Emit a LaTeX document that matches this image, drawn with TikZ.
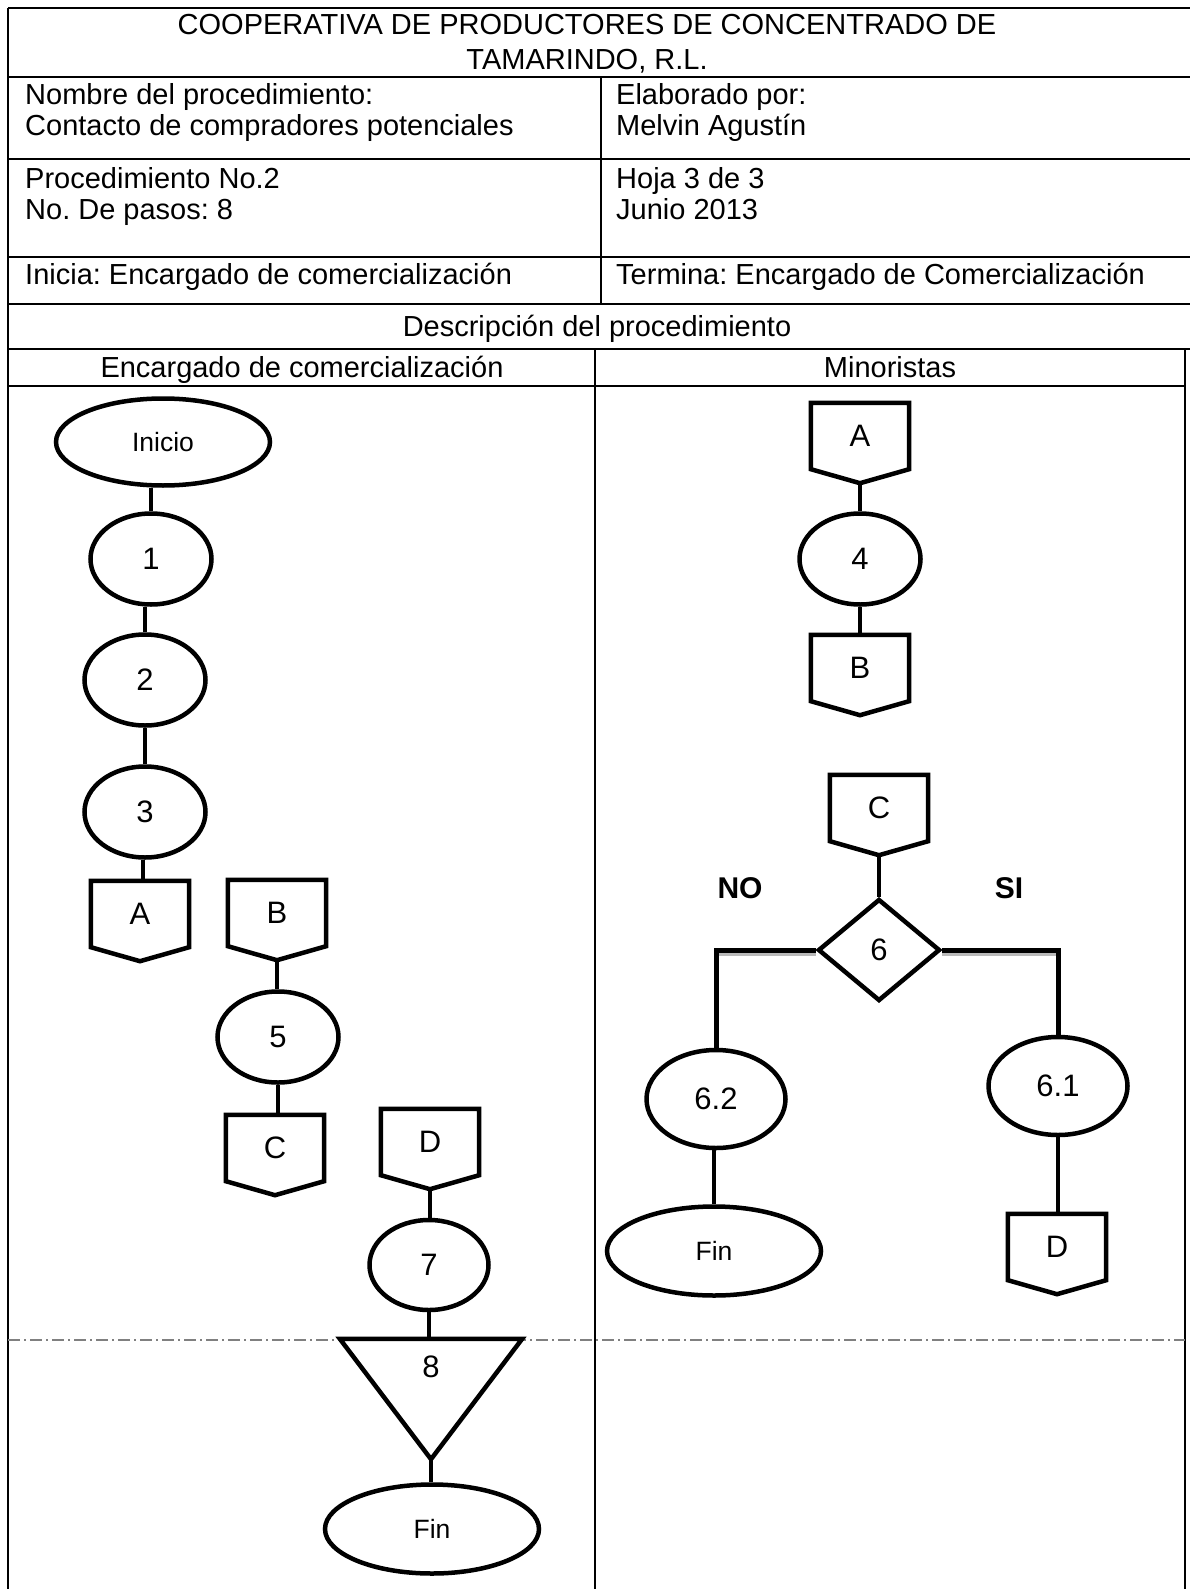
\documentclass[tikz,border=0pt]{standalone}
\usepackage{fontspec}
\setmainfont{Liberation Sans}
\usetikzlibrary{shapes.geometric,calc}
\frenchspacing
\newcommand\hdrfont{\fontsize{29}{34}\selectfont}
\newcommand\numfont{\fontsize{31}{37}\selectfont}
\newcommand\lblfont{\fontsize{26.5}{31}\selectfont}
\newcommand\letfont{\fontsize{31}{37}\selectfont}
\newcommand\ynfont{\fontsize{30}{36}\selectfont\bfseries}
\tikzset{
  tline/.style={line width=1.6pt},
  dashline/.style={line width=1.2pt, gray, dash pattern=on 12pt off 4pt on 2pt off 4pt},
  shp/.style={draw, line width=4.5pt},
  oval/.style={shp, ellipse, inner sep=0pt},
  numoval/.style={oval, minimum width=121pt, minimum height=91pt, font=\numfont},
  bigoval/.style={oval, minimum width=214pt, minimum height=87pt, font=\lblfont},
  midoval/.style={oval, minimum width=139pt, minimum height=98pt, font=\numfont},
  opcbox/.style={rectangle, inner sep=0pt, minimum width=98pt, minimum height=66pt, font=\letfont},
  conn/.style={line width=4pt},
  branch/.style={line width=5pt},
  shade/.style={line width=4pt, gray!55},
  htext/.style={font=\hdrfont, inner sep=0pt, anchor=base west},
  ctext/.style={font=\hdrfont, inner sep=0pt, anchor=base},
}
\newcommand\offpg[4]{%
  \node[opcbox] (#1) at (#2,#3+35) {#4};
  \coordinate (#1-tip) at ($(#1.south)+(0,14)$);
  \draw[line width=4.5pt] (#1.north west) -- (#1.north east) -- (#1.south east) -- (#1-tip) -- (#1.south west) -- cycle;
}
\begin{document}
\begin{tikzpicture}[x=1pt,y=-1pt]
\useasboundingbox (0,0) rectangle (1190,1589);
\fill[white] (0,0) rectangle (1190,1589);

% ---------- table ----------
\draw[tline] (8,8) -- (1190,8);
\foreach \yy in {77,159,257,304,349} { \draw[tline] (8,\yy) -- (1190,\yy); }
\draw[tline] (8,386) -- (1185,386);
\draw[tline] (8,8) -- (8,1589);
\draw[tline] (601,77) -- (601,304);
\draw[tline] (595,349) -- (595,1589);
\draw[tline] (1185,349) -- (1185,1589);
\draw[dashline] (8,1340) -- (1185,1340);

% ---------- header texts ----------
\node[ctext] (title1) at (587,35) {COOPERATIVA DE PRODUCTORES DE CONCENTRADO DE};
\node[ctext] (title2) at (587,70) {TAMARINDO, R.L.};
\node[htext] (nom1) at (25,105) {Nombre del procedimiento:};
\node[htext] (nom2) at (25,136) {Contacto de compradores potenciales};
\node[htext] (ela1) at (616,105) {Elaborado por:};
\node[htext] (ela2) at (616,136) {Melvin Agustín};
\node[htext] (pro1) at (25,189) {Procedimiento No.2};
\node[htext] (pro2) at (25,220) {No. De pasos: 8};
\node[htext] (hoj1) at (616,189) {Hoja 3 de 3};
\node[htext] (hoj2) at (616,220) {Junio 2013};
\node[htext] (ini1) at (25,284) {Inicia: Encargado de comercialización};
\node[htext] (ter1) at (616,284) {Termina: Encargado de Comercialización};
\node[ctext] (desc) at (597,336) {Descripción del procedimiento};
\node[ctext] (lane1) at (302,377) {Encargado de comercialización};
\node[ctext] (lane2) at (890,377) {Minoristas};

% ---------- left lane ----------
\node[bigoval] (ini) at (163,442) {Inicio};
\node[numoval] (n1) at (151,559) {1};
\node[numoval] (n2) at (145,680) {2};
\node[numoval] (n3) at (145,812) {3};
\offpg{A1}{140}{879}{A}
\offpg{B1}{277}{878}{B}
\node[numoval] (n5) at (278,1037) {5};
\offpg{C1}{275}{1113}{C}
\offpg{D1}{430}{1107}{D}
\node[numoval, minimum width=119pt, minimum height=90pt] (n7) at (429,1265) {7};
\node[rectangle, inner sep=0pt, minimum width=182pt, minimum height=120pt] (t8) at (431,1399) {};
\draw[line width=4.5pt] (t8.north west) -- (t8.north east) -- (t8.south) -- cycle;
\node[font=\numfont, inner sep=0pt] (t8lbl) at (431,1367) {8};
\node[bigoval, minimum height=89pt] (fin1) at (432,1529) {Fin};

\draw[conn] (n1.north) -- (n1.north |- ini.south);
\draw[conn] (n2.north) -- (n2.north |- n1.south);
\draw[conn] (n3.north) -- (n3.north |- n2.south);
\draw[conn] ([xshift=-2pt]n3.south) -- ([xshift=-2pt]n3.south |- A1.north);
\draw[conn] (B1-tip) -- (B1-tip |- n5.north);
\draw[conn] (n5.south) -- (n5.south |- C1.north);
\draw[conn] (D1-tip) -- (D1-tip |- n7.north);
\draw[conn] (n7.south) -- (n7.south |- t8.north);
\draw[conn] (t8.south) -- (t8.south |- fin1.north);

% ---------- right lane ----------
\offpg{A2}{860}{401}{A}
\node[numoval] (n4) at (860,559) {4};
\offpg{B2}{860}{633}{B}
\offpg{C2}{879}{773}{C}
\node[shp, diamond, inner sep=0pt, minimum width=122pt, minimum height=102pt, font=\numfont] (d6) at (879,950) {6};
\node[font=\ynfont, inner sep=0pt] (no) at (740,888) {NO};
\node[font=\ynfont, inner sep=0pt] (si) at (1009,888) {SI};
\node[midoval] (n62) at (716,1099) {6.2};
\node[midoval] (n61) at (1058,1086) {6.1};
\node[bigoval, minimum height=89pt] (fin2) at (714,1251) {Fin};
\offpg{D2}{1057}{1212}{D}

\draw[conn] (A2-tip) -- (A2-tip |- n4.north);
\draw[conn] (n4.south) -- (n4.south |- B2.north);
\draw[conn] (C2-tip) -- (C2-tip |- d6.north);
\draw[shade] ([yshift=-4pt]d6.west) -- ([yshift=-4pt]d6.west -| n62.north);
\draw[shade] ([yshift=-4pt]d6.east) -- ([yshift=-4pt]d6.east -| n61.north);
\draw[branch] (d6.west) -| (n62.north);
\draw[branch] (d6.east) -| (n61.north);
\draw[conn] ([xshift=-2pt]n62.south) -- ([xshift=-2pt]n62.south |- fin2.north);
\draw[conn] (n61.south) -- (n61.south |- D2.north);
\end{tikzpicture}
\end{document}
